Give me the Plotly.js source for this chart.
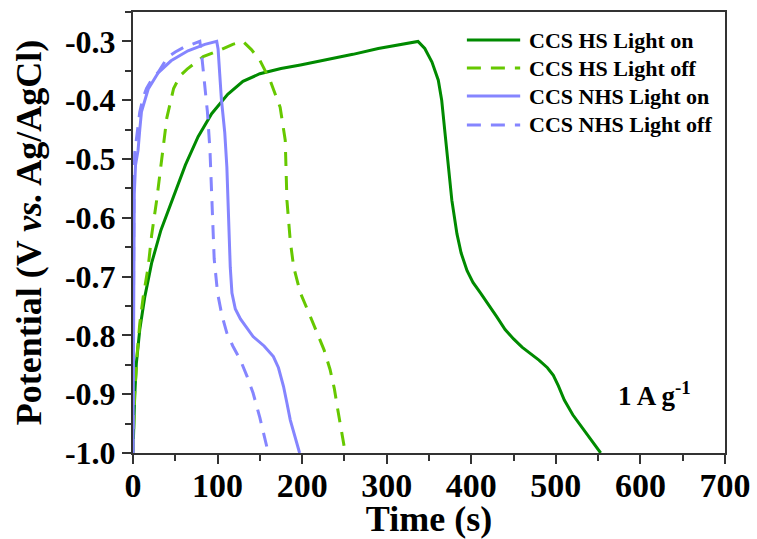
<!DOCTYPE html>
<html>
<head>
<meta charset="utf-8">
<script src="https://cdn.plot.ly/plotly-3.0.1.min.js"></script>
<style>
  html, body { margin: 0; padding: 0; background: #fff; }
  #chart { width: 757px; height: 539px; }
</style>
</head>
<body>
<div id="chart"></div>
<script>
// Galvanostatic charge/discharge curves at 1 A g^-1

const hsOnTime = [0, 0.5, 2, 4, 8, 14, 22, 33, 47, 62, 77, 93, 112, 130, 150, 175, 198, 230, 260, 290, 316, 337,
  345, 353.5, 361, 365, 369, 373, 377, 383, 388, 395, 402, 411, 420, 430, 440, 450, 460, 470, 480, 490, 497, 503,
  510, 520, 535, 553];
const hsOnPot = [-1.0, -0.96, -0.904, -0.847, -0.79, -0.734, -0.677, -0.621, -0.567, -0.51, -0.462, -0.423, -0.39,
  -0.368, -0.355, -0.346, -0.34, -0.331, -0.322, -0.312, -0.305, -0.30,
  -0.312, -0.335, -0.366, -0.40, -0.457, -0.513, -0.57, -0.627, -0.66, -0.69, -0.71, -0.728, -0.748, -0.768,
  -0.79, -0.806, -0.82, -0.831, -0.842, -0.855, -0.868, -0.886, -0.91, -0.935, -0.965, -1.0];

const hsOffTime = [0, 2, 5, 8, 12, 18, 22, 28, 34, 40, 48, 56, 64, 83, 99, 118, 130,
  140, 150, 162, 174, 180, 182, 186, 190, 198, 208, 218, 226, 233, 238, 242, 246, 251];
const hsOffPot = [-1.0, -0.9, -0.83, -0.78, -0.735, -0.683, -0.63, -0.57, -0.5, -0.43, -0.38, -0.358, -0.347,
  -0.326, -0.317, -0.305, -0.30,
  -0.314, -0.332, -0.366, -0.412, -0.468, -0.57, -0.64, -0.684, -0.728, -0.762, -0.796, -0.825, -0.858,
  -0.89, -0.925, -0.96, -1.0];

const nhsOnTime = [0, 0.8, 1.5, 3, 6, 8, 10, 12, 18, 30, 45, 65, 85, 99,
  100.6, 104.5, 108.5, 111, 113, 115, 117, 121, 127, 135, 142, 155, 166, 172, 178, 182, 186, 197];
const nhsOnPot = [-1.0, -0.75, -0.56, -0.51, -0.485, -0.45, -0.42, -0.41, -0.381, -0.353, -0.333, -0.316, -0.305, -0.30,
  -0.313, -0.398, -0.455, -0.514, -0.6, -0.684, -0.728, -0.755, -0.772, -0.788, -0.802, -0.818, -0.836,
  -0.855, -0.887, -0.915, -0.944, -1.0];

const nhsOffTime = [0, 0.5, 1, 2, 5, 8, 12, 16, 22, 30, 41, 50, 60, 70, 79,
  81, 84, 88, 91, 94, 96, 100, 105, 111, 118, 127, 135, 142, 150, 160];
const nhsOffPot = [-1.0, -0.75, -0.56, -0.49, -0.45, -0.42, -0.395, -0.38, -0.365, -0.352, -0.327, -0.318, -0.31,
  -0.305, -0.30,
  -0.32, -0.36, -0.42, -0.485, -0.6, -0.67, -0.728, -0.765, -0.796, -0.818, -0.842, -0.87, -0.898, -0.94, -1.0];

const seriesNames = ['CCS HS Light on', 'CCS HS Light off', 'CCS NHS Light on', 'CCS NHS Light off'];

const xTickVals = [0, 100, 200, 300, 400, 500, 600, 700];
const xTickText = ['0', '100', '200', '300', '400', '500', '600', '700'];
const yTickVals = [-1.0, -0.9, -0.8, -0.7, -0.6, -0.5, -0.4, -0.3];
const yTickText = ['-1.0', '-0.9', '-0.8', '-0.7', '-0.6', '-0.5', '-0.4', '-0.3'];

const darkGreen = '#008a00';
const lightGreen = '#66c800';
const periwinkle = '#8585ff';
const dashPattern = '14px,10px';

const seriesX = [hsOnTime, hsOffTime, nhsOnTime, nhsOffTime];
const seriesY = [hsOnPot, hsOffPot, nhsOnPot, nhsOffPot];
const seriesLine = [
  { color: darkGreen, width: 3 },
  { color: lightGreen, width: 3, dash: dashPattern },
  { color: periwinkle, width: 3 },
  { color: periwinkle, width: 3, dash: dashPattern }
];

const traces = seriesNames.map((name, i) => ({
  type: 'scatter', mode: 'lines', name: name,
  x: seriesX[i], y: seriesY[i], line: seriesLine[i], showlegend: false
}));

const serif = 'Liberation Serif, Times New Roman, serif';
const axisColor = '#333';

// Key in the upper right: a line sample and a label per series, in paper units
const keyLineX0 = 0.564, keyLineX1 = 0.654, keyTextX = 0.666;
const keyRowY = [0.9365, 0.873, 0.8095, 0.7438];

const keyShapes = seriesNames.map((name, i) => ({
  type: 'line', xref: 'paper', yref: 'paper',
  x0: keyLineX0, x1: keyLineX1, y0: keyRowY[i], y1: keyRowY[i],
  line: seriesLine[i]
}));

const keyLabels = seriesNames.map((name, i) => ({
  xref: 'paper', yref: 'paper', x: keyTextX, y: keyRowY[i],
  xanchor: 'left', yanchor: 'middle', showarrow: false, text: name,
  font: { family: serif, size: 22, color: '#000', weight: 'bold' }
}));

const layout = {
  width: 757,
  height: 539,
  margin: { l: 133, r: 32, t: 12, b: 86 },
  paper_bgcolor: '#fff',
  plot_bgcolor: '#fff',
  font: { family: serif, color: '#000', weight: 'bold' },
  showlegend: false,
  xaxis: {
    range: [0, 700],
    tickmode: 'array', tickvals: xTickVals, ticktext: xTickText,
    ticks: 'outside', ticklen: 9, tickwidth: 2, tickcolor: axisColor,
    ticklabelstandoff: -8,
    minor: { tickmode: 'linear', tick0: 0, dtick: 50, ticks: 'outside', ticklen: 6, tickwidth: 2, tickcolor: axisColor },
    showline: true, linecolor: axisColor, linewidth: 2, mirror: true,
    showgrid: false, zeroline: false,
    tickfont: { family: serif, size: 34, color: '#000', weight: 'bold' },
    title: { text: 'Time (s)', font: { family: serif, size: 36, color: '#000', weight: 'bold' }, standoff: 6 }
  },
  yaxis: {
    range: [-1.0, -0.25],
    tickmode: 'array', tickvals: yTickVals, ticktext: yTickText,
    ticks: 'outside', ticklen: 9, tickwidth: 2, tickcolor: axisColor,
    minor: { tickmode: 'linear', tick0: -1.0, dtick: 0.05, ticks: 'outside', ticklen: 6, tickwidth: 2, tickcolor: axisColor },
    showline: true, linecolor: axisColor, linewidth: 2, mirror: true,
    showgrid: false, zeroline: false,
    tickfont: { family: serif, size: 32, color: '#000', weight: 'bold' },
    title: { text: 'Potential (V <i>vs.</i> Ag/AgCl)', font: { family: serif, size: 36, color: '#000', weight: 'bold' }, standoff: 12 }
  },
  shapes: keyShapes,
  annotations: keyLabels.concat([{
    x: 617, y: -0.90, xref: 'x', yref: 'y', showarrow: false,
    text: '1 A g<sup>-1</sup>',
    font: { family: serif, size: 27, color: '#000', weight: 'bold' }
  }])
};

Plotly.newPlot('chart', traces, layout, { staticPlot: true, displayModeBar: false });
</script>
</body>
</html>
